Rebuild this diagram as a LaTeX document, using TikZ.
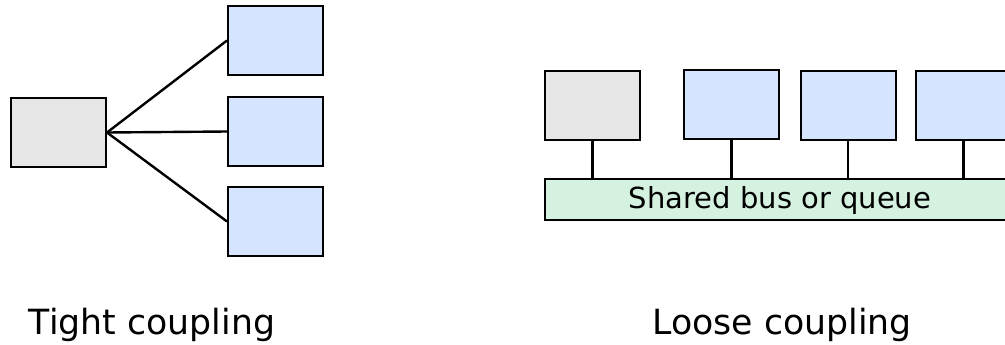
\documentclass[tikz,border=0pt]{standalone}
\usepackage{fontspec}
\setmainfont{DejaVu Sans}
\definecolor{hostgray}{HTML}{E6E6E6}
\definecolor{svcblue}{HTML}{D5E5FF}
\definecolor{busgreen}{HTML}{D5F2E0}
\begin{document}
\begin{tikzpicture}[x=1pt,y=-1pt,
  box/.style={draw=black, line width=2pt, minimum width=95pt, minimum height=69pt, inner sep=0pt},
  caller/.style={box, fill=hostgray},
  callee/.style={box, fill=svcblue},
  link/.style={line width=2.4pt},
  caption/.style={font=\fontsize{34.7}{34.7}\selectfont, inner sep=0pt, anchor=base}]
\useasboundingbox (0,0) rectangle (1005,345);

% Tight coupling: one caller wired directly to every callee
\node[caller] (a) at (58.5,132.5) {};
\node[callee] (b1) at (275.5,40.5) {};
\node[callee] (b2) at (275.5,131.5) {};
\node[callee] (b3) at (275.5,221.5) {};
\draw[link] (a.east) -- (b1.west);
\draw[link] (a.east) -- (b2.west);
\draw[link] (a.east) -- (b3.west);
\node[caption] (t1) at (152,334) {Tight coupling};

% Loose coupling: everyone talks through a shared bus
\node[caller] (c) at (592.5,105.5) {};
\node[callee] (d1) at (731.5,104.5) {};
\node[callee] (d2) at (848,105.5) {};
\node[callee] (d3) at (963.5,105.5) {};
\node[draw=black, line width=2pt, fill=busgreen, minimum width=470pt, minimum height=41pt,
      inner sep=0pt] (bus) at (780,199.5) {};
\node[inner sep=0pt, anchor=base, font=\fontsize{29}{29}\selectfont] (buslabel) at (780,208.5) {Shared bus or queue};
\draw[link] (c.south) -- (c.south |- bus.north);
\draw[link] (d1.south) -- (d1.south |- bus.north);
\draw[link] (d2.south) -- (d2.south |- bus.north);
\draw[link] (d3.south) -- (d3.south |- bus.north);
\node[caption] (t2) at (782,334) {Loose coupling};
\end{tikzpicture}
\end{document}
